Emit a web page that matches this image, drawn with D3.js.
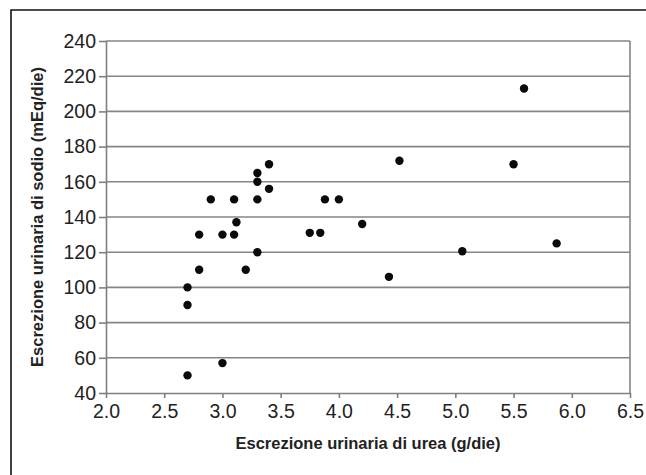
<!DOCTYPE html>
<html lang="it">
<head>
<meta charset="UTF-8">
<title>Escrezione urinaria di sodio vs urea</title>
<script src="https://d3js.org/d3.v7.min.js"></script>
<style>
    body { margin: 0; background: #fff; font-family: Arial, "Liberation Sans", sans-serif; }
    .axis text { font-size: 19.5px; fill: #222; }
    .axis line, .axis path { stroke: #7f7f7f; stroke-width: 1.6; }
    .grid line { stroke: #858585; stroke-width: 1.6; }
    .title { font-size: 16.5px; font-weight: bold; fill: #222; }
</style>
</head>
<body>
<div id="chart"></div>
<script>
    // urea (g/die) and sodio (mEq/die)
    const urea  = [2.7, 2.7, 2.7, 2.8, 2.8, 2.9, 3.0, 3.0, 3.1, 3.1, 3.12, 3.2, 3.3, 3.3, 3.3,
                   3.3, 3.4, 3.4, 3.75, 3.84, 3.88, 4.0, 4.2, 4.43, 4.52, 5.06, 5.5, 5.59, 5.87];
    const sodio = [50, 90, 100, 110, 130, 150, 57, 130, 130, 150, 137, 110, 120, 150, 160,
                   165, 156, 170, 131, 131, 150, 150, 136, 106, 172, 120.5, 170, 213, 125];
    const xTicks = [2.0, 2.5, 3.0, 3.5, 4.0, 4.5, 5.0, 5.5, 6.0, 6.5];
    const yTicks = [40, 60, 80, 100, 120, 140, 160, 180, 200, 220, 240];

    const W = 646, H = 475;
    const margin = { top: 41, right: 16, bottom: 82, left: 106 };
    const width = W - margin.left - margin.right;
    const height = H - margin.top - margin.bottom;

    const root = d3.select("#chart").append("svg")
        .attr("width", W)
        .attr("height", H);

    // outer frame (top and left edges only, runs off the picture)
    root.append("path")
        .attr("d", `M11,${H} V10 H${W}`)
        .attr("fill", "none")
        .attr("stroke", "#111")
        .attr("stroke-width", 1.6);

    const svg = root.append("g")
        .attr("transform", `translate(${margin.left},${margin.top})`);

    const x = d3.scaleLinear().domain([2.0, 6.5]).range([0, width]);
    const y = d3.scaleLinear().domain([40, 240]).range([height, 0]);

    // horizontal gridlines + right border
    svg.append("g")
        .attr("class", "grid")
        .selectAll("line")
        .data(yTicks.slice(1))
        .enter().append("line")
        .attr("x1", 0)
        .attr("x2", width)
        .attr("y1", d => y(d))
        .attr("y2", d => y(d));

    svg.append("line")
        .attr("x1", width).attr("x2", width)
        .attr("y1", 0).attr("y2", height)
        .attr("stroke", "#858585")
        .attr("stroke-width", 1.6);

    // axes
    svg.append("g")
        .attr("class", "axis")
        .attr("transform", `translate(0,${height})`)
        .call(d3.axisBottom(x).tickValues(xTicks).tickFormat(d3.format(".1f"))
            .tickSizeInner(5).tickSizeOuter(0).tickPadding(6));

    svg.append("g")
        .attr("class", "axis")
        .call(d3.axisLeft(y).tickValues(yTicks)
            .tickSizeInner(7).tickSizeOuter(0).tickPadding(3));

    // points
    svg.append("g")
        .selectAll("circle")
        .data(urea.map((u, i) => ({ u: u, s: sodio[i] })))
        .enter().append("circle")
        .attr("cx", d => x(d.u))
        .attr("cy", d => y(d.s))
        .attr("r", 4.2)
        .attr("fill", "#0a0a0a");

    // axis titles
    svg.append("text")
        .attr("class", "title")
        .attr("x", width / 2)
        .attr("y", height + 56)
        .attr("text-anchor", "middle")
        .text("Escrezione urinaria di urea (g/die)");

    svg.append("text")
        .attr("class", "title")
        .attr("transform", `translate(${43 - margin.left},${height / 2}) rotate(-90)`)
        .attr("text-anchor", "middle")
        .text("Escrezione urinaria di sodio (mEq/die)");
</script>
</body>
</html>
